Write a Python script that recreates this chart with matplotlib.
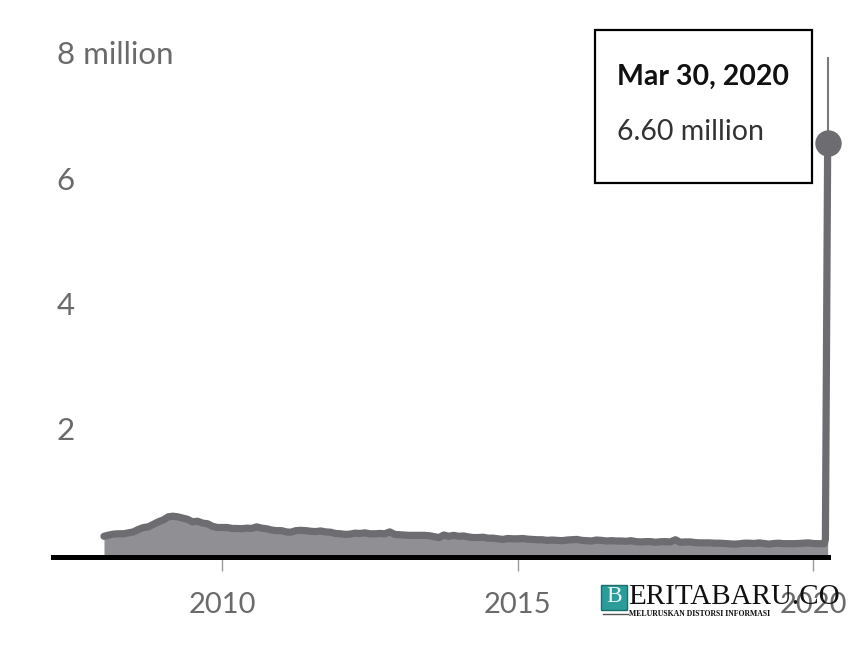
import numpy as np
import pandas as pd
import matplotlib
matplotlib.use('Agg')
import matplotlib.pyplot as plt
from matplotlib.patches import Rectangle
import matplotlib.transforms as mtransforms

# Weekly jobless claims (thousands), monthly levels
claims_2008 = [330, 350, 365, 370, 370, 385, 400, 440, 470, 480, 520, 560]
claims_2009 = [590, 640, 650, 640, 620, 600, 560, 570, 540, 530, 490, 470]
claims_2010 = [470, 470, 455, 455, 450, 460, 455, 480, 460, 450, 430, 420]
claims_2011 = [420, 400, 395, 420, 425, 420, 410, 405, 415, 400, 395, 375]
claims_2012 = [370, 360, 365, 380, 375, 385, 370, 370, 375, 370, 400, 360]
claims_2013 = [355, 350, 345, 345, 345, 345, 340, 325, 310, 350, 330, 345]
claims_2014 = [330, 335, 320, 310, 310, 315, 300, 300, 290, 280, 295, 290]
claims_2015 = [290, 295, 285, 280, 275, 275, 265, 270, 265, 260, 270, 275]
claims_2016 = [280, 265, 260, 255, 270, 265, 255, 260, 255, 255, 250, 260]
claims_2017 = [245, 240, 245, 245, 235, 243, 245, 240, 275, 235, 240, 240]
claims_2018 = [230, 225, 225, 225, 220, 220, 215, 210, 205, 210, 220, 220]
claims_2019 = [215, 225, 215, 205, 215, 220, 212, 213, 212, 215, 220, 225]
claims_2020 = [215, 212]
march_2020_dates = ['2020-03-09', '2020-03-16', '2020-03-23', '2020-03-30']
march_2020_claims = [211, 282, 3310, 6600]

y_ticks = [2, 4, 6, 8]
y_tick_labels = ['2', '4', '6', '8 million']
x_ticks = ['2010-01-01', '2015-01-01', '2020-01-01']
x_tick_labels = ['2010', '2015', '2020']

monthly = (claims_2008 + claims_2009 + claims_2010 + claims_2011 + claims_2012 + claims_2013
           + claims_2014 + claims_2015 + claims_2016 + claims_2017 + claims_2018 + claims_2019
           + claims_2020)
dates = list(pd.date_range('2008-01-01', periods=len(monthly), freq='MS')) + \
    list(pd.to_datetime(march_2020_dates))
values = np.array(monthly + march_2020_claims) / 1000.0

line_col = '#6c6c71'
fill_col = '#909094'
label_col = '#6a6a6a'

W, H = 862, 645
fig = plt.figure(figsize=(W / 100, H / 100), dpi=100)
ax = fig.add_axes([53 / W, (H - 557) / H, (828 - 53) / W, (557 - 55) / H])

ax.fill_between(dates, 0, values, color=fill_col, lw=0, zorder=1)
ax.plot(dates, values, color=line_col, lw=5.2, solid_joinstyle='round',
        solid_capstyle='round', zorder=2, clip_on=False)
ax.axhline(0, color='black', lw=3.6, zorder=3, clip_on=False)

# hover marker
last_date, last_val = dates[-1], values[-1]
ax.plot([last_date, last_date], [last_val, 7.95], color='#7a7a7a', lw=1.5, zorder=2, clip_on=False)
ax.plot([last_date], [last_val], 'o', color=line_col, ms=18, zorder=4, clip_on=False)

ax.set_ylim(0, 8)
ax.set_xlim(pd.Timestamp('2007-02-20'), pd.Timestamp('2020-04-01'))
for s in ax.spines.values():
    s.set_visible(False)

ax.set_yticks([])
trans = mtransforms.blended_transform_factory(ax.transAxes, ax.transData)
for v, lab in zip(y_ticks, y_tick_labels):
    ax.text(0.005, v, lab, transform=trans, ha='left', va='center',
            fontsize=22.5, color=label_col, family='Lato')

ax.set_xticks(pd.to_datetime(x_ticks))
ax.set_xticklabels(x_tick_labels)
ax.tick_params(axis='x', length=10, width=1, color='#9a9a9a', pad=15,
               labelsize=21, labelcolor=label_col)
for t in ax.get_xticklabels():
    t.set_family('Lato')

# tooltip box
fig.patches.append(Rectangle((595 / W, 1 - 183 / H), 217 / W, 153 / H,
                             transform=fig.transFigure, facecolor='white',
                             edgecolor='black', lw=1.6, zorder=5))
fig.text(617 / W, 1 - 77 / H, 'Mar 30, 2020', ha='left', va='center', fontsize=20.5,
         fontweight='bold', family='Lato', color='#111111', zorder=6)
fig.text(617 / W, 1 - 132 / H, '6.60 million', ha='left', va='center', fontsize=20.5,
         family='Lato', color='#333333', zorder=6)

# watermark
fig.patches.append(Rectangle((601 / W, 1 - 610 / H), 26 / W, 25 / H,
                             transform=fig.transFigure, facecolor='#2a9c9a',
                             edgecolor='#1d6f6e', lw=1, zorder=7))
fig.text(614 / W, 1 - 597 / H, 'B', ha='center', va='center', fontsize=17,
         family='Liberation Serif', color='#e8f4f4', zorder=8)
fig.text(628 / W, 1 - 597 / H, 'ERITABARU.CO', ha='left', va='center', fontsize=21,
         family='Liberation Serif', color='#111111', zorder=8)
fig.lines.append(plt.Line2D([603 / W, 628 / W], [1 - 614 / H, 1 - 614 / H],
                            transform=fig.transFigure, color='#555555', lw=1))
fig.text(629 / W, 1 - 614 / H, 'MELURUSKAN DISTORSI INFORMASI', ha='left', va='center',
         fontsize=5.6, fontweight='bold', family='Liberation Serif', color='#111111', zorder=8)

fig.savefig('out.png', dpi=100)
